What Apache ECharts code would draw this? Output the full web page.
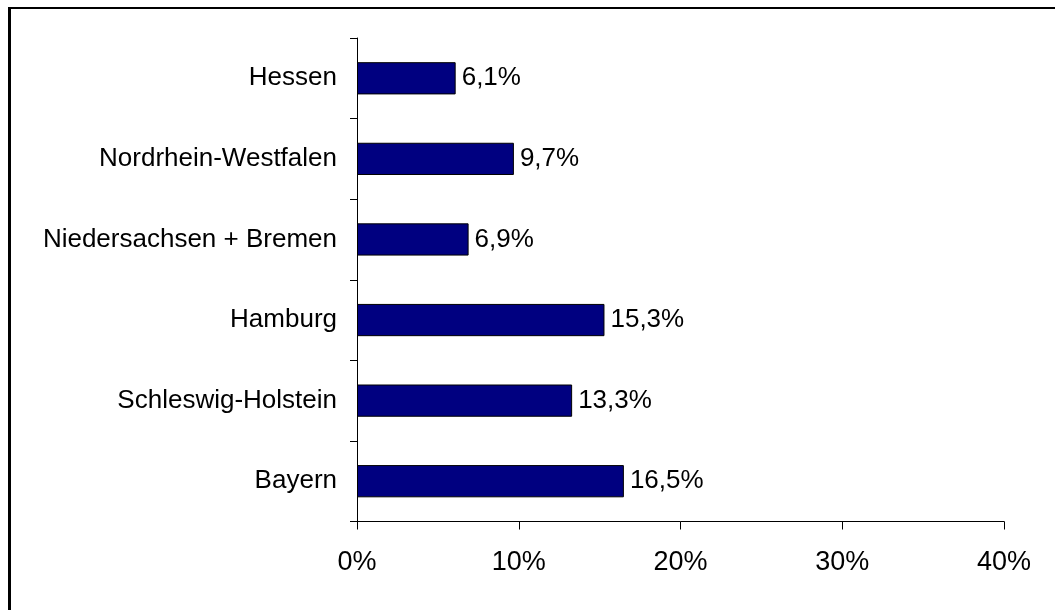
<!DOCTYPE html>
<html>
<head>
<meta charset="utf-8">
<script src="https://cdn.jsdelivr.net/npm/echarts@6/dist/echarts.min.js"></script>
<style>html,body{margin:0;padding:0;background:#fff}#c{width:1055px;height:610px}</style>
</head>
<body>
<div id="c"></div>
<script>
const categories = ['Bayern', 'Schleswig-Holstein', 'Hamburg', 'Niedersachsen + Bremen', 'Nordrhein-Westfalen', 'Hessen'];
const values = [16.5, 13.3, 15.3, 6.9, 9.7, 6.1];
const xTicks = [0, 10, 20, 30, 40];

const font = "'Liberation Sans', Arial, sans-serif";
const chart = echarts.init(document.getElementById('c'), null, {renderer: 'canvas'});
chart.setOption({
  animation: false,
  backgroundColor: '#fff',
  grid: {left: 357, top: 38, right: 51, bottom: 88.5, containLabel: false},
  xAxis: {
    type: 'value', min: xTicks[0], max: xTicks[xTicks.length - 1], interval: 10,
    axisLine: {show: true, lineStyle: {color: '#000', width: 1}},
    axisTick: {show: true, length: 8, lineStyle: {color: '#000', width: 1}},
    splitLine: {show: false},
    axisLabel: {color: '#000', fontSize: 27, fontFamily: font, margin: 28,
      formatter: v => v + '%'}
  },
  yAxis: {
    type: 'category', data: categories,
    axisLine: {show: true, lineStyle: {color: '#000', width: 1}},
    axisTick: {show: true, length: 7, alignWithLabel: false, lineStyle: {color: '#000', width: 1}},
    axisLabel: {color: '#000', fontSize: 26, fontFamily: font, margin: 20}
  },
  series: [{
    type: 'bar', data: values, barWidth: '40%',
    itemStyle: {color: '#000080', borderColor: '#000', borderWidth: 1},
    label: {show: true, position: 'right', distance: 6, color: '#000', fontSize: 26, fontFamily: font,
      formatter: p => p.value.toFixed(1).replace('.', ',') + '%'}
  }],
  graphic: [
    {type: 'rect', shape: {x: 8, y: 7, width: 3, height: 620}, style: {fill: '#000'}, silent: true},
    {type: 'rect', shape: {x: 8, y: 7, width: 1100, height: 2}, style: {fill: '#000'}, silent: true}
  ]
});
</script>
</body>
</html>
